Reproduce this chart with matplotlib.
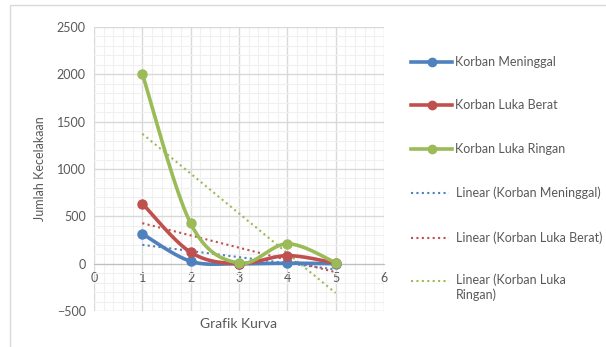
import matplotlib

matplotlib.use("Agg")
import matplotlib.pyplot as plt
import numpy as np
from matplotlib.lines import Line2D
from matplotlib.patches import Rectangle
from matplotlib.ticker import MultipleLocator

plt.rcParams["font.family"] = ["Lato", "DejaVu Sans"]

x_vals = [1, 2, 3, 4, 5]
meninggal = [315, 25, 0, 5, 0]
luka_berat = [635, 120, 0, 85, 5]
luka_ringan = [2005, 425, 5, 210, 10]

series_names = ["Korban Meninggal", "Korban Luka Berat", "Korban Luka Ringan"]
series_colors = ["#4F81BD", "#C0504D", "#9BBB59"]
TEXT = "#595959"
DOTTED = (0, (1, 1.6))


def smooth(xs, ys, n=40):
    # cubic Bezier through the points, Catmull-Rom style control points
    p = np.column_stack([xs, ys]).astype(float)
    pts = np.vstack([p[0], p, p[-1]])
    out = []
    for i in range(1, len(pts) - 2):
        p0, p1, p2, p3 = pts[i - 1], pts[i], pts[i + 1], pts[i + 2]
        c1 = p1 + (p2 - p0) / 6
        c2 = p2 - (p3 - p1) / 6
        t = np.linspace(0, 1, n)[:, None]
        seg = ((1 - t) ** 3) * p1 + 3 * ((1 - t) ** 2) * t * c1 + 3 * (1 - t) * t ** 2 * c2 + t ** 3 * p2
        out.append(seg if i == 1 else seg[1:])
    seg = np.vstack(out)
    return seg[:, 0], seg[:, 1]


fig = plt.figure(figsize=(6.06, 3.47), dpi=100)
fig.add_artist(Rectangle((10 / 606, -0.01), 1.0, 1 - 5 / 347 + 0.01, transform=fig.transFigure,
                         fill=False, edgecolor="#d9d9d9", linewidth=1))
ax = fig.add_axes([94 / 606, 1 - 311 / 347, 290 / 606, 284 / 347])

all_series = [meninggal, luka_berat, luka_ringan]
for ys, color in zip(all_series, series_colors):
    sx, sy = smooth(x_vals, ys)
    ax.plot(sx, sy, color=color, linewidth=2.6, solid_capstyle="round", zorder=3)
    ax.plot(x_vals, ys, "o", color=color, markersize=6.5, zorder=4)

# linear trend lines
for ys, color in zip(all_series, series_colors):
    slope, icpt = np.polyfit(x_vals, ys, 1)
    xs = np.array([x_vals[0], x_vals[-1]])
    ax.plot(xs, slope * xs + icpt, linestyle=DOTTED, color=color, linewidth=1.5, zorder=2)

ax.set_xlim(0, 6)
ax.set_ylim(-500, 2500)
ax.xaxis.set_major_locator(MultipleLocator(1))
ax.xaxis.set_minor_locator(MultipleLocator(0.2))
ax.yaxis.set_major_locator(MultipleLocator(500))
ax.yaxis.set_minor_locator(MultipleLocator(100))
ax.grid(which="major", color="#d9d9d9", linewidth=1)
ax.grid(which="minor", color="#f0f0f0", linewidth=0.8)
ax.set_axisbelow(True)
for side in ("top", "right", "left"):
    ax.spines[side].set_visible(False)
ax.spines["bottom"].set_position(("data", 0))
ax.spines["bottom"].set_color("#bfbfbf")
ax.tick_params(which="both", length=0, labelsize=9, colors=TEXT, pad=6)
ax.set_xlabel("Grafik Kurva", fontsize=10, color=TEXT)
ax.xaxis.set_label_coords(0.5, -0.025)
ax.set_ylabel("Jumlah Kecelakaan", fontsize=9, color=TEXT)
ax.yaxis.set_label_coords(-0.165, 0.5)

# legend down the right side
legend_rows = [62, 105, 149, 193, 238, 281]
labels = series_names + ["Linear (Korban Meninggal)", "Linear (Korban Luka Berat)",
                         "Linear (Korban Luka\nRingan)"]
for k, (row, label) in enumerate(zip(legend_rows, labels)):
    color = series_colors[k % 3]
    y = 1 - row / 347
    if k < 3:
        fig.add_artist(Line2D([411 / 606, 452 / 606], [y, y], color=color, linewidth=2.6,
                              transform=fig.transFigure))
        fig.add_artist(Line2D([431.5 / 606], [y], marker="o", color=color, markersize=6,
                              transform=fig.transFigure))
        tx = 455 / 606
    else:
        fig.add_artist(Line2D([411 / 606, 449 / 606], [y, y], color=color, linewidth=1.5,
                              linestyle=DOTTED, transform=fig.transFigure))
        tx = 456 / 606
    if "\n" in label:
        fig.text(tx, y + 8 / 347, label, fontsize=9, color=TEXT, va="top", ha="left",
                 linespacing=1.3)
    else:
        fig.text(tx, y, label, fontsize=9, color=TEXT, va="center", ha="left")

fig.savefig("out.png", dpi=100)
